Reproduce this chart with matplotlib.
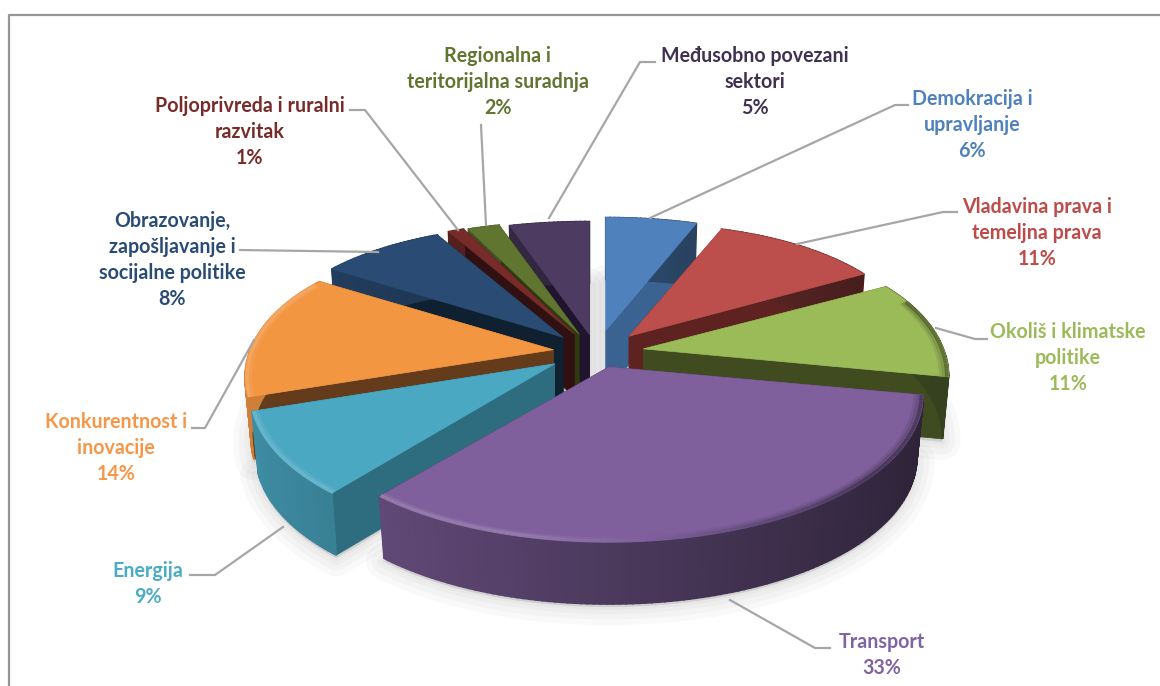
'''
3D tortni grafikon - raspodjela po sektorima
'''
import numpy as np
import matplotlib
matplotlib.use("Agg")
import matplotlib.pyplot as plt
from matplotlib.colors import to_rgb
from matplotlib.patches import Polygon

#--------------------------Podaci------------------------------
categories = ["Demokracija i\nupravljanje", "Vladavina prava i\ntemeljna prava",
              "Okoliš i klimatske\npolitike", "Transport", "Energija",
              "Konkurentnost i\ninovacije", "Obrazovanje,\nzapošljavanje i\nsocijalne politike",
              "Poljoprivreda i ruralni\nrazvitak", "Regionalna i\nteritorijalna suradnja",
              "Međusobno povezani\nsektori"]
values = [6, 11, 11, 33, 9, 14, 8, 1, 2, 5]

#--------------------------Stil------------------------------
top_colors = ["#4f81bd", "#bc4f4c", "#9bbb59", "#7f609c", "#4aa8c3",
              "#f39642", "#2a4b74", "#772c2a", "#5f7530", "#4d3b62"]
cut_colors = ["#3a6391", "#5e2220", "#414b20", "#3a2c4a", "#2e6c7f",
              "#643b1b", "#0f2030", "#301010", "#2e3a10", "#20142e"]
text_colors = ["#4f81bd", "#be4b48", "#9bbb59", "#8064a2", "#4bacc6",
               "#f79646", "#2a4b74", "#772c2a", "#5f7530", "#403152"]
explode = [52, 50, 48, 38, 50, 43, 48, 48, 46, 42]
# sirina pojedinog isjecka u odnosu na osnovnu elipsu
widen = [0.95, 0.97, 1.0, 1.03, 1.0, 1.01, 1.0, 1.0, 1.0, 1.0]
# redoslijed crtanja, od straznjih prema prednjim
draw_order = [9, 0, 8, 7, 1, 6, 5, 2, 4, 3]
label_pos = [(972, 99), (1037, 207), (1068, 332), (882, 642), (148, 571),
             (116, 422), (172, 221), (250, 106), (498, 56), (755, 56)]
leaders = [[(650, 218), (895, 105), (908, 105)],
           [(797, 244), (943, 212), (957, 212)],
           [(936, 328), (975, 339), (987, 339)],
           [(730, 600), (815, 648), (830, 648)],
           [(283, 527), (215, 575), (190, 575)],
           [(254, 340), (205, 428), (192, 428)],
           [(378, 252), (240, 250)],
           [(458, 230), (365, 110), (350, 110)],
           [(486, 225), (481, 125)],
           [(549, 218), (640, 62), (655, 62)]]
cx, cy = 596, 352
depth = 62
taper = 0.98
line_h = 26

#--------------------------Funkcije------------------------------
def proj(theta):
    # perspektiva: straznji dio kruga je uzi od prednjeg
    u, v = np.sin(theta), np.cos(theta)
    return u * (300 - 55 * v + 12 * v * v), -v * (144 - 31 * v)

def mix(color, other, t):
    c, o = np.array(to_rgb(color)), np.array(to_rgb(other))
    return tuple(c * (1 - t) + o * t)

def shade(color, f):
    return tuple(np.clip(np.array(to_rgb(color)) * f, 0, 1))

fig = plt.figure(figsize=(11.6, 6.86), dpi=100)
ax = fig.add_axes([0, 0, 1, 1])
ax.set_xlim(0, 1160)
ax.set_ylim(686, 0)
ax.axis("off")

# okvir
ax.plot([8.5, 8.5, 1160], [686, 14.5, 14.5], color="#969696", lw=1.6)

edges = np.radians(np.cumsum([0] + values) * 3.6)
slices = []
for i in range(len(values)):
    t0, t1 = edges[i], edges[i + 1]
    mid = (t0 + t1) / 2
    ax0 = cx + explode[i] * np.sin(mid)
    ay0 = cy - 0.42 * explode[i] * np.cos(mid)
    th = np.linspace(t0, t1, max(int(np.degrees(t1 - t0)), 2) + 1)
    px, py = proj(th)
    slices.append((ax0, ay0, th, px * widen[i], py))

# sjena ispod tortnih isjecaka
for ax0, ay0, th, px, py in slices:
    pts = np.column_stack([np.r_[ax0, ax0 + px * taper], np.r_[ay0, ay0 + py] + depth + 3])
    for lw in [26, 18, 10, 4]:
        ax.add_patch(Polygon(pts, closed=True, facecolor="black", edgecolor="black",
                             lw=lw, alpha=0.025, joinstyle="round", zorder=1))

z = 2
for i in draw_order:
    ax0, ay0, th, px, py = slices[i]
    x, y = ax0 + px, ay0 + py
    xb = ax0 + px * taper
    # rezne stijenke
    for k in [0, -1]:
        wall = [(ax0, ay0), (x[k], y[k]), (xb[k], y[k] + depth), (ax0, ay0 + depth)]
        ax.add_patch(Polygon(wall, closed=True, facecolor=cut_colors[i],
                             edgecolor=cut_colors[i], lw=0.5, zorder=z))
    # vanjska stijenka, prijelaz svjetlo-tamno po kutu
    for k in range(len(th) - 1):
        f = 0.6 - 0.25 * np.sin((th[k] + th[k + 1]) / 2)
        c = shade(top_colors[i], f)
        quad = [(x[k], y[k]), (x[k + 1], y[k + 1]),
                (xb[k + 1], y[k + 1] + depth), (xb[k], y[k] + depth)]
        ax.add_patch(Polygon(quad, closed=True, facecolor=c, edgecolor=c, lw=1.2, zorder=z))
    # gornja ploha
    top = np.column_stack([np.r_[ax0, x], np.r_[ay0, y]])
    ax.add_patch(Polygon(top, closed=True, facecolor=top_colors[i],
                         edgecolor=top_colors[i], lw=0.5, joinstyle="round", zorder=z))
    # rub gornje plohe (svijetli lijevo, tamni desno), malo uvucen prema sredini
    for k in range(len(th) - 1):
        m = (th[k] + th[k + 1]) / 2
        u, v = np.sin(m), np.cos(m)
        if (u < 0 and v > 0.5) or (u >= 0 and v > 0.35):
            continue
        for inset, alpha in [(0.994, 0.7), (0.984, 0.3), (0.974, 0.15)]:
            if u < 0.1:
                c = mix(top_colors[i], "white", 0.22 * min(1, (0.1 - u) * 3))
                if inset < 0.98:
                    continue
            else:
                c = shade(top_colors[i], 1 - 0.55 * min(1, (u - 0.1) * 1.6))
            ax.plot(ax0 + px[k:k + 2] * inset, ay0 + py[k:k + 2] * inset, color=c, lw=2.6,
                    solid_capstyle="butt", alpha=alpha, zorder=z)
    z += 1

# linije do oznaka
for pts in leaders:
    lx, ly = zip(*pts)
    ax.plot(lx, ly, color="#a6a6a6", lw=1.6, solid_joinstyle="miter", zorder=20)

# oznake
for i, cat in enumerate(categories):
    lines = cat.split("\n") + [f"{values[i]}%"]
    lx, ly = label_pos[i]
    for n, line in enumerate(lines):
        ax.text(lx, ly + n * line_h, line, ha="center", va="center", color=text_colors[i],
                fontsize=14.1, fontweight="bold", family="Lato", zorder=21)

fig.savefig("out.png", dpi=100)
